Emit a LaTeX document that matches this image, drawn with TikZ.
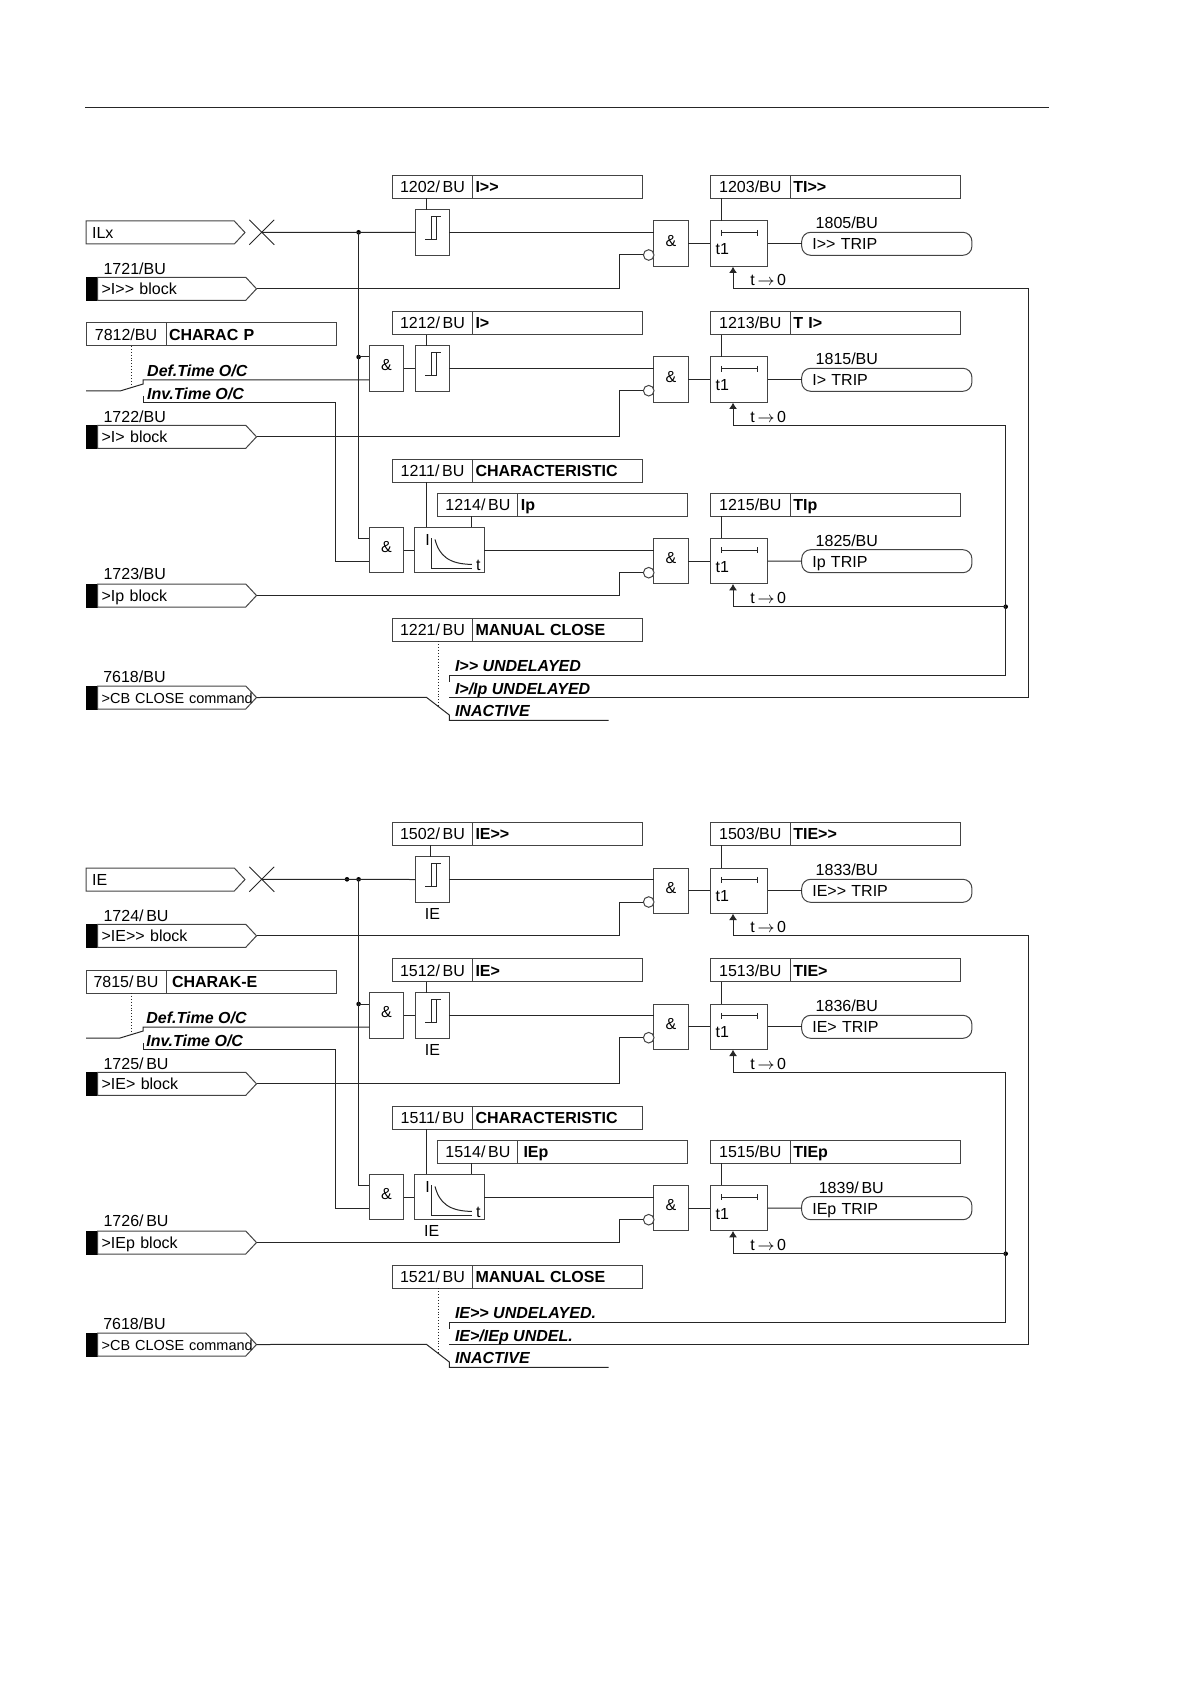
\documentclass[tikz,border=0pt]{standalone}
\usepackage{fontspec}
\setmainfont{Liberation Sans}
\usetikzlibrary{arrows.meta,positioning,shapes.misc,shapes.symbols}
\definecolor{wireink}{HTML}{262626}
\definecolor{boxink}{HTML}{444444}
\newcommand{\figfont}{\fontsize{8}{9.6}\selectfont}
\tikzset{
  every node/.style={font=\figfont},
  wire/.style={draw=wireink,line width=0.5pt},
  resetarrow/.style={wire,-{Latex[length=3.2pt,width=4pt]}},
  ctrldash/.style={draw=wireink,line width=0.45pt,densely dotted},
  lgcbox/.style={draw=boxink,line width=0.5pt,inner sep=0pt,outer sep=0pt,fill=white},
  barnum/.style={lgcbox,minimum width=40pt,minimum height=11.5pt,anchor=north west,
    text height=5.8pt,text depth=0pt},
  barname/.style={lgcbox,minimum height=11.5pt,text width=82pt,inner xsep=1.5pt,align=left,
    text height=5.8pt,text depth=0pt,font=\figfont\bfseries},
  gatebox/.style={lgcbox,minimum width=17.2pt,minimum height=22.8pt,anchor=north west,
    text height=5.8pt,text depth=3.5pt},
  levelbox/.style={lgcbox,minimum width=17pt,minimum height=22.8pt,anchor=north west},
  curvebox/.style={lgcbox,minimum width=35pt,minimum height=22.8pt,anchor=north west},
  timerbox/.style={lgcbox,minimum width=28.7pt,minimum height=22.8pt,anchor=north west},
  tripoval/.style={lgcbox,rounded corners=4.5pt,minimum height=11.5pt,text width=74.5pt,
    inner xsep=5.3pt,align=left,anchor=north west,text height=5.8pt,text depth=0pt},
  inputsig/.style={lgcbox,shape=signal,signal to=east,signal pointer angle=94,
    minimum width=79.5pt,minimum height=11.5pt,text width=70pt,inner xsep=1.5pt,align=left,
    anchor=north west,text height=5.8pt,text depth=0pt},
  inputflag/.style={fill=black,draw=black,inner sep=0pt,outer sep=0pt,minimum width=5.75pt,
    minimum height=11.5pt,anchor=north west},
  negdot/.style={circle,lgcbox,minimum size=5.3pt},
  jdot/.style={circle,fill=black,inner sep=0pt,minimum size=2.3pt},
  crossmark/.style={cross out,draw=wireink,line width=0.45pt,inner sep=0pt,minimum size=12pt},
  txt/.style={anchor=west,inner sep=0pt,text height=5.8pt,text depth=0pt},
  modetxt/.style={txt,font=\figfont\bfseries\itshape},
  hystsym/.pic={
    \draw[wire] (-7,6.8) -- (4.4,6.8) -- (4.4,-15.8);
    \draw[wire] (-1,-15.8) -- (9,-15.8);
    \draw[wire] (-1,-15.8) -- (-1,6.8);
  },
  delaybar/.pic={
    \draw[wire] (-17.3,-14) -- (-17.3,-8);
    \draw[wire] (-17.3,-11) -- (18,-11);
    \draw[wire] (18,-14) -- (18,-8);
  },
  invcurve/.pic={
    \draw[wire] (-17.5,-11.7) -- (-17.5,18) -- (22.5,18);
    \draw[wire] (-14.3,-10.7) .. controls (-10,6) and (0,14) .. (22.5,14.3);
  }
}
\begin{document}
\begin{tikzpicture}[x=0.5pt,y=-0.5pt]
\useasboundingbox (0,0) rectangle (1190,1684);
\draw[wire] (85,107.5) -- (1049,107.5);

% phase current
\node[barnum] (n1202) at (392.5,175.3) {1202/\,BU};
\node[barname,right=0pt of n1202] (v1202) {I>{}>};
\node[barnum] (n1203) at (710.3,175.3) {1203/BU};
\node[barname,right=0pt of n1203] (v1203) {TI>{}>};
\node[barnum] (n1212) at (392.5,311.7) {1212/\,BU};
\node[barname,right=0pt of n1212] (v1212) {I>};
\node[barnum] (n1213) at (710.3,311.7) {1213/BU};
\node[barname,right=0pt of n1213] (v1213) {T I>};
\node[barnum] (n7812) at (86,323) {7812/BU};
\node[barname,right=0pt of n7812] (v7812) {CHARAC P};
\node[barnum] (n1211) at (392.5,459) {1211/\,BU};
\node[barname,right=0pt of n1211] (v1211) {CHARACTERISTIC};
\node[barnum] (n1214) at (437.9,493) {1214/\,BU};
\node[barname,right=0pt of n1214] (v1214) {Ip};
\node[barnum] (n1215) at (710.3,493) {1215/BU};
\node[barname,right=0pt of n1215] (v1215) {TIp};
\node[barnum] (n1221) at (392.5,618.3) {1221/\,BU};
\node[barname,right=0pt of n1221] (v1221) {MANUAL CLOSE};

\node[inputsig] (ilx) at (86,221) {\hspace{1pt}ILx};
\node[crossmark] (xilx) at (261.8,232.3) {};
\node[txt] (l1721) at (103.2,269) {1721/BU};
\node[inputflag] (f1721) at (86,277.3) {};
\node[inputsig,right=0pt of f1721] (s1721) {>I>{}> block};
\node[txt] (l1722) at (103.2,416.7) {1722/BU};
\node[inputflag] (f1722) at (86,425.3) {};
\node[inputsig,right=0pt of f1722] (s1722) {>I> block};
\node[txt] (l1723) at (103.2,574) {1723/BU};
\node[inputflag] (f1723) at (86,584) {};
\node[inputsig,right=0pt of f1723] (s1723) {>Ip block};
\node[txt] (l7618) at (102.9,676.7) {7618/BU};
\node[inputflag] (f7618) at (86,686) {};
\node[inputsig,right=0pt of f7618,font=\fontsize{7.25}{8}\selectfont] (s7618) {\mbox{>CB CLOSE command}};

\node[levelbox] (thhi) at (415.4,209.7) {};
\node[gatebox] (prelo) at (369.3,345.7) {\&};
\node[levelbox] (thlo) at (415.4,345.7) {};
\node[gatebox] (preip) at (369.3,527.3) {\&};
\node[curvebox] (chip) at (414.3,527.3) {};
\pic at (thhi.center) {hystsym};
\pic at (thlo.center) {hystsym};
\pic at (chip.center) {invcurve};
\node[txt] (chi) at (425,540) {I};
\node[txt] (cht) at (475.7,564.7) {t};

\node[gatebox] (andhi) at (653.7,221) {\&};
\node[gatebox] (andlo) at (653.7,357) {\&};
\node[gatebox] (andip) at (653.7,538.3) {\&};
\node[negdot] (neghi) at (648.7,255) {};
\node[negdot] (neglo) at (648.7,390.7) {};
\node[negdot] (negip) at (648.7,572.7) {};
\node[timerbox] (tmhi) at (710.3,221) {};
\node[timerbox] (tmlo) at (710.3,357) {};
\node[timerbox] (tmip) at (710.3,538.3) {};
\pic at (tmhi.center) {delaybar};
\pic at (tmlo.center) {delaybar};
\pic at (tmip.center) {delaybar};
\node[txt] (t1hi) at (715.3,248.7) {t1};
\node[txt] (t1lo) at (715.3,384.7) {t1};
\node[txt] (t1ip) at (715.3,566.3) {t1};
\node[tripoval] (triphi) at (801.7,232.3) {I>{}> TRIP};
\node[tripoval] (triplo) at (801.7,368.3) {I> TRIP};
\node[tripoval] (tripip) at (801.7,549.7) {Ip TRIP};
\node[txt] (l1805) at (815.3,222.7) {1805/BU};
\node[txt] (l1815) at (815.3,359) {1815/BU};
\node[txt] (l1825) at (815.3,540.3) {1825/BU};
\node[txt] (rshi) at (750,280) {t\,$\rightarrow$\,0};
\node[txt] (rslo) at (750,416.7) {t\,$\rightarrow$\,0};
\node[txt] (rsip) at (750,598) {t\,$\rightarrow$\,0};

\node[modetxt] (mdef) at (146.8,370.7) {Def.Time O/C};
\node[modetxt] (minv) at (146.8,393.3) {Inv.Time O/C};
\node[modetxt] (mund) at (454.6,665.7) {I>{}> UNDELAYED};
\node[modetxt] (mupp) at (454.6,688.3) {I>/Ip UNDELAYED};
\node[modetxt] (mina) at (454.6,711) {INACTIVE};

\node[jdot] (dhi) at (358.6,232.3) {};
\node[jdot] (dlo) at (358.6,357) {};
\node[jdot] (drs) at (1005.7,606.7) {};
\coordinate (swin) at (86,391);
\coordinate (swarm) at (120,391);
\coordinate (swtip) at (143.2,384);
\coordinate (swdef) at (143.2,380);
\coordinate (swinv) at (143.2,396);
\coordinate (swdot) at (131.8,386.7);
\coordinate (cbarm) at (426.4,697.3);
\coordinate (cbtip) at (449.3,715);
\coordinate (cbund) at (449.3,681.7);
\coordinate (cbupp) at (449.3,697.7);
\coordinate (cbina) at (608.6,720.3);
\coordinate (cbdot) at (438.2,706.7);

\draw[wire] (xilx.center) -- (thhi.west);
\draw[wire] (thhi.east) -- (thhi.east -| andhi.west);
\draw[wire] (s1721.east) -| (619.3,255) -- (neghi.west);
\draw[wire] (dhi.center) |- (preip.north west |- 0,538.7);
\draw[wire] (dlo.center) -- (dlo -| prelo.west);
\draw[wire] (prelo.east) -- (thlo.west);
\draw[wire] (thlo.east) -- (thlo.east -| andlo.west);
\draw[wire] (s1722.east) -| (619.3,390.7) -- (neglo.west);
\draw[wire] (swin) -- (swarm) -- (swtip) -- (swdef) -- (swdef -| prelo.west);
\draw[wire] (swinv) |- (335.7,402.3) |- (preip.west |- 0,561.3);
\draw[ctrldash] (n7812.south -| swdot) -- (swdot);
\draw[wire] (preip.east) -- (chip.west);
\draw[wire] (chip.east) -- (chip.east -| andip.west);
\draw[wire] (s1723.east) -| (619.3,572.7) -- (negip.west);
\draw[wire] ([xshift=17pt]n1202.south west) -- ([xshift=17pt]n1202.south west |- thhi.north);
\draw[wire] ([xshift=17pt]n1212.south west) -- ([xshift=17pt]n1212.south west |- thlo.north);
\draw[wire] ([xshift=17pt]n1211.south west) -- ([xshift=17pt]n1211.south west |- chip.north);
\draw[wire] ([xshift=17pt]n1214.south west) -- ([xshift=17pt]n1214.south west |- chip.north);
\draw[wire] ([xshift=5.7pt]n1203.south west) -- ([xshift=5.7pt]n1203.south west |- tmhi.north);
\draw[wire] ([xshift=5.7pt]n1213.south west) -- ([xshift=5.7pt]n1213.south west |- tmlo.north);
\draw[wire] ([xshift=5.7pt]n1215.south west) -- ([xshift=5.7pt]n1215.south west |- tmip.north);
\draw[wire] (andhi.east) -- (tmhi.west);
\draw[wire] (andlo.east) -- (tmlo.west);
\draw[wire] (andip.east) -- (tmip.west);
\draw[wire] (tmhi.east) -- (triphi.west);
\draw[wire] (tmlo.east) -- (triplo.west);
\draw[wire] (tmip.east) -- (tripip.west);
\draw[wire] (s7618.east) -- (cbarm) -- (cbtip) |- (cbina);
\draw[ctrldash] (n1221.south -| cbdot) -- (cbdot);
\draw[resetarrow] (cbund) |- (1005.7,675) |- ([xshift=-3pt]tmlo.south |- 0,425.3) -- ([xshift=-3pt]tmlo.south);
\draw[resetarrow] (cbupp) -| (1028.7,288.7) -| ([xshift=-3pt]tmhi.south);
\draw[resetarrow] (drs.center) -| ([xshift=-3pt]tmip.south);

% earth current
\node[barnum] (n1502) at (392.5,822.3) {1502/\,BU};
\node[barname,right=0pt of n1502] (v1502) {IE>{}>};
\node[barnum] (n1503) at (710.3,822.3) {1503/BU};
\node[barname,right=0pt of n1503] (v1503) {TIE>{}>};
\node[barnum] (n1512) at (392.5,958.7) {1512/\,BU};
\node[barname,right=0pt of n1512] (v1512) {IE>};
\node[barnum] (n1513) at (710.3,958.7) {1513/BU};
\node[barname,right=0pt of n1513] (v1513) {TIE>};
\node[barnum] (n7815) at (86,970) {7815/\,BU};
\node[barname,right=0pt of n7815] (v7815) {\hspace{1.5pt}CHARAK-E};
\node[barnum] (n1511) at (392.5,1106.3) {1511/\,BU};
\node[barname,right=0pt of n1511] (v1511) {CHARACTERISTIC};
\node[barnum] (n1514) at (437.9,1140) {1514/\,BU};
\node[barname,right=0pt of n1514] (v1514) {\hspace{1.3pt}IEp};
\node[barnum] (n1515) at (710.3,1140) {1515/BU};
\node[barname,right=0pt of n1515] (v1515) {TIEp};
\node[barnum] (n1521) at (392.5,1265.3) {1521/\,BU};
\node[barname,right=0pt of n1521] (v1521) {MANUAL CLOSE};

\node[inputsig] (ie) at (86,868) {\hspace{1pt}IE};
\node[crossmark] (xie) at (261.8,879.3) {};
\node[txt] (l1724) at (103.2,916) {1724/\,BU};
\node[inputflag] (f1724) at (86,924.3) {};
\node[inputsig,right=0pt of f1724] (s1724) {>IE>{}> block};
\node[txt] (l1725) at (103.2,1063.7) {1725/\,BU};
\node[inputflag] (f1725) at (86,1072.3) {};
\node[inputsig,right=0pt of f1725] (s1725) {>IE> block};
\node[txt] (l1726) at (103.2,1221) {1726/\,BU};
\node[inputflag] (f1726) at (86,1231) {};
\node[inputsig,right=0pt of f1726] (s1726) {>IEp block};
\node[txt] (l7618e) at (102.9,1323.7) {7618/BU};
\node[inputflag] (f7618e) at (86,1333) {};
\node[inputsig,right=0pt of f7618e,font=\fontsize{7.25}{8}\selectfont] (s7618e) {\mbox{>CB CLOSE command}};

\node[levelbox] (ethhi) at (415.4,856.7) {};
\node[gatebox] (eprelo) at (369.3,992.7) {\&};
\node[levelbox] (ethlo) at (415.4,992.7) {};
\node[gatebox] (epreip) at (369.3,1174.3) {\&};
\node[curvebox] (echip) at (414.3,1174.3) {};
\pic at (ethhi.center) {hystsym};
\pic at (ethlo.center) {hystsym};
\pic at (echip.center) {invcurve};
\node[txt] (echi) at (425,1187) {I};
\node[txt] (echt) at (475.7,1211.7) {t};
\node[txt,below=2.4pt of ethhi] (iehi) {IE};
\node[txt,below=2.4pt of ethlo] (ielo) {IE};
\node[txt,below=2.4pt of echip.south west,xshift=8.75pt] (ieip) {IE};

\node[gatebox] (eandhi) at (653.7,868) {\&};
\node[gatebox] (eandlo) at (653.7,1004) {\&};
\node[gatebox] (eandip) at (653.7,1185.3) {\&};
\node[negdot] (eneghi) at (648.7,902) {};
\node[negdot] (eneglo) at (648.7,1037.7) {};
\node[negdot] (enegip) at (648.7,1219.7) {};
\node[timerbox] (etmhi) at (710.3,868) {};
\node[timerbox] (etmlo) at (710.3,1004) {};
\node[timerbox] (etmip) at (710.3,1185.3) {};
\pic at (etmhi.center) {delaybar};
\pic at (etmlo.center) {delaybar};
\pic at (etmip.center) {delaybar};
\node[txt] (et1hi) at (715.3,895.7) {t1};
\node[txt] (et1lo) at (715.3,1031.7) {t1};
\node[txt] (et1ip) at (715.3,1213.3) {t1};
\node[tripoval] (etriphi) at (801.7,879.3) {IE>{}> TRIP};
\node[tripoval] (etriplo) at (801.7,1015.3) {IE> TRIP};
\node[tripoval] (etripip) at (801.7,1196.7) {IEp TRIP};
\node[txt] (l1833) at (815.3,869.7) {1833/BU};
\node[txt] (l1836) at (815.3,1006) {1836/BU};
\node[txt] (l1839) at (818.4,1187.3) {1839/\,BU};
\node[txt] (ershi) at (750,927) {t\,$\rightarrow$\,0};
\node[txt] (erslo) at (750,1063.7) {t\,$\rightarrow$\,0};
\node[txt] (ersip) at (750,1245) {t\,$\rightarrow$\,0};

\node[modetxt] (edef) at (146,1017.7) {Def.Time O/C};
\node[modetxt] (einv) at (146,1040.3) {Inv.Time O/C};
\node[modetxt] (eund) at (454.6,1312.7) {IE>{}> UNDELAYED.};
\node[modetxt] (eupp) at (454.6,1335.3) {IE>/IEp UNDEL.};
\node[modetxt] (eina) at (454.6,1358) {INACTIVE};

\node[jdot] (edin) at (347,879.3) {};
\node[jdot] (edhi) at (358.6,879.3) {};
\node[jdot] (edlo) at (358.6,1004) {};
\node[jdot] (edrs) at (1005.7,1253.7) {};
\coordinate (eswin) at (86,1038);
\coordinate (eswarm) at (120,1038);
\coordinate (eswtip) at (143.2,1031);
\coordinate (eswdef) at (143.2,1027);
\coordinate (eswinv) at (143.2,1043);
\coordinate (eswdot) at (131.8,1033.7);
\coordinate (ecbarm) at (426.4,1344.3);
\coordinate (ecbtip) at (449.3,1362);
\coordinate (ecbund) at (449.3,1328.7);
\coordinate (ecbupp) at (449.3,1344.7);
\coordinate (ecbina) at (608.6,1367.3);
\coordinate (ecbdot) at (438.2,1353.7);

\draw[wire] (xie.center) -- (ethhi.west);
\draw[wire] (ethhi.east) -- (ethhi.east -| eandhi.west);
\draw[wire] (s1724.east) -| (619.3,902) -- (eneghi.west);
\draw[wire] (edhi.center) |- (epreip.north west |- 0,1185.7);
\draw[wire] (edlo.center) -- (edlo -| eprelo.west);
\draw[wire] (eprelo.east) -- (ethlo.west);
\draw[wire] (ethlo.east) -- (ethlo.east -| eandlo.west);
\draw[wire] (s1725.east) -| (619.3,1037.7) -- (eneglo.west);
\draw[wire] (eswin) -- (eswarm) -- (eswtip) -- (eswdef) -- (eswdef -| eprelo.west);
\draw[wire] (eswinv) |- (335.7,1049.3) |- (epreip.west |- 0,1208.3);
\draw[ctrldash] (n7815.south -| eswdot) -- (eswdot);
\draw[wire] (epreip.east) -- (echip.west);
\draw[wire] (echip.east) -- (echip.east -| eandip.west);
\draw[wire] (s1726.east) -| (619.3,1219.7) -- (enegip.west);
\draw[wire] ([xshift=19pt]n1502.south west) -- ([xshift=19pt]n1502.south west |- ethhi.north);
\draw[wire] ([xshift=17pt]n1512.south west) -- ([xshift=17pt]n1512.south west |- ethlo.north);
\draw[wire] ([xshift=17pt]n1511.south west) -- ([xshift=17pt]n1511.south west |- echip.north);
\draw[wire] ([xshift=17pt]n1514.south west) -- ([xshift=17pt]n1514.south west |- echip.north);
\draw[wire] ([xshift=5.7pt]n1503.south west) -- ([xshift=5.7pt]n1503.south west |- etmhi.north);
\draw[wire] ([xshift=5.7pt]n1513.south west) -- ([xshift=5.7pt]n1513.south west |- etmlo.north);
\draw[wire] ([xshift=5.7pt]n1515.south west) -- ([xshift=5.7pt]n1515.south west |- etmip.north);
\draw[wire] (eandhi.east) -- (etmhi.west);
\draw[wire] (eandlo.east) -- (etmlo.west);
\draw[wire] (eandip.east) -- (etmip.west);
\draw[wire] (etmhi.east) -- (etriphi.west);
\draw[wire] (etmlo.east) -- (etriplo.west);
\draw[wire] (etmip.east) -- (etripip.west);
\draw[wire] (s7618e.east) -- (ecbarm) -- (ecbtip) |- (ecbina);
\draw[ctrldash] (n1521.south -| ecbdot) -- (ecbdot);
\draw[resetarrow] (ecbund) |- (1005.7,1322) |- ([xshift=-3pt]etmlo.south |- 0,1072.3) -- ([xshift=-3pt]etmlo.south);
\draw[resetarrow] (ecbupp) -| (1028.7,935.7) -| ([xshift=-3pt]etmhi.south);
\draw[resetarrow] (edrs.center) -| ([xshift=-3pt]etmip.south);
\end{tikzpicture}
\end{document}
